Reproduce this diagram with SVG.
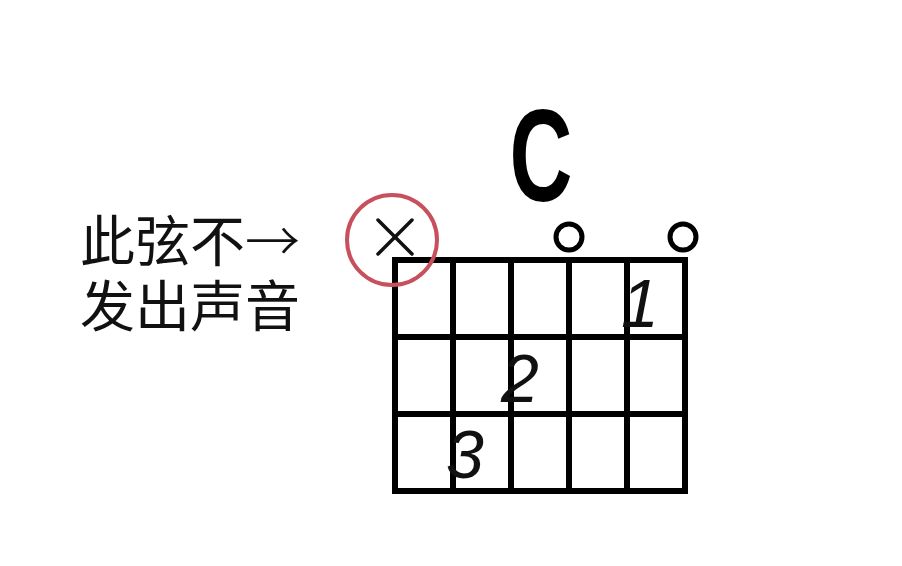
<svg xmlns="http://www.w3.org/2000/svg" width="902" height="566" viewBox="0 0 902 566">
<style>
.grid{stroke:#000;stroke-width:6;fill:none;stroke-linecap:square}
.open{stroke:#000;stroke-width:5;fill:none}
.fing{font-family:"Liberation Sans",sans-serif;font-style:italic;font-size:68px;fill:#111;text-anchor:middle}
.cn{font-family:"Liberation Sans","Noto Sans CJK SC",sans-serif;font-weight:400;font-size:55px;fill:#111}
.arr{font-family:"Noto Sans CJK SC",sans-serif;font-weight:300}
</style>
<rect width="902" height="566" fill="#fff"/>
<g id="label">
<text class="cn" x="80" y="261">此弦不<tspan class="arr">→</tspan></text>
<text class="cn" x="80" y="326">发出声音</text>
</g>
<g id="title">
<text transform="translate(541,201) scale(0.66,1)" font-family="Liberation Sans,sans-serif" font-weight="bold" font-size="132" text-anchor="middle" fill="#000">C</text>
</g>
<g id="grid">
<rect class="grid" x="395" y="260" width="290" height="231"/>
<line class="grid" x1="453" y1="260" x2="453" y2="491"/>
<line class="grid" x1="511" y1="260" x2="511" y2="491"/>
<line class="grid" x1="569" y1="260" x2="569" y2="491"/>
<line class="grid" x1="627" y1="260" x2="627" y2="491"/>
<line class="grid" x1="395" y1="337" x2="685" y2="337"/>
<line class="grid" x1="395" y1="414" x2="685" y2="414"/>
</g>
<g id="mute">
<line x1="378" y1="220" x2="412" y2="254" stroke="#111" stroke-width="3.5" stroke-linecap="round"/>
<line x1="412" y1="220" x2="378" y2="254" stroke="#111" stroke-width="3.5" stroke-linecap="round"/>
<circle cx="392" cy="240" r="45" fill="none" stroke="#c8505c" stroke-width="4"/>
</g>
<g id="open-strings">
<circle class="open" cx="569" cy="237" r="13"/>
<circle class="open" cx="683" cy="237" r="13"/>
</g>
<g id="fingers">
<text class="fing" x="640" y="327">1</text>
<text class="fing" x="520" y="402">2</text>
<text class="fing" x="465" y="478">3</text>
</g>
</svg>
